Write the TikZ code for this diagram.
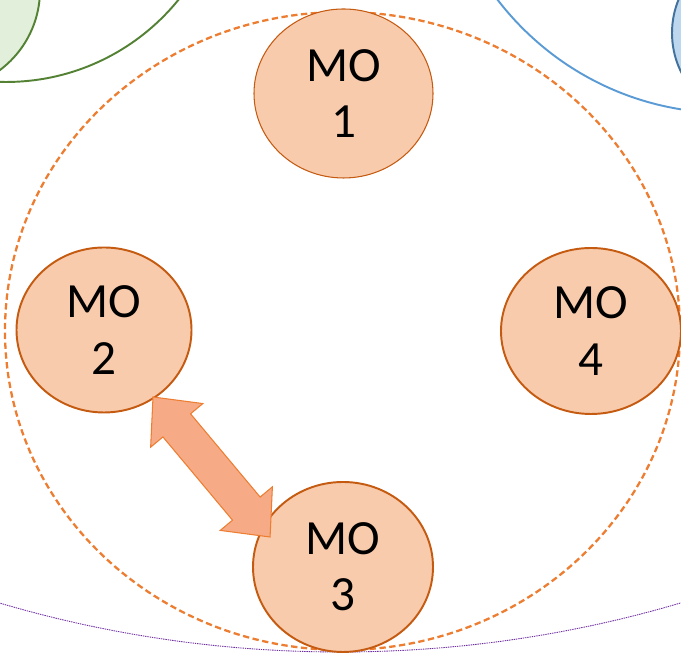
\documentclass[tikz,border=0pt]{standalone}
\usepackage{fontspec}
\setmainfont{Carlito}
\usetikzlibrary{shapes.geometric}

\definecolor{moFill}{HTML}{F8CBAD}
\definecolor{moLine}{HTML}{C55A11}
\definecolor{ringLine}{HTML}{ED7D31}
\definecolor{arrFill}{HTML}{F6AB86}
\definecolor{grnFill}{HTML}{E2EFDA}
\definecolor{grnLine}{HTML}{548235}
\definecolor{bluLine}{HTML}{5B9BD5}
\definecolor{bluFill}{HTML}{BDD7EE}
\definecolor{bluDark}{HTML}{41719C}
\definecolor{purLine}{HTML}{7030A0}

\tikzset{
	mo/.style={ellipse, draw=moLine, fill=moFill, line width=1.1pt, align=center, inner sep=0pt,
		font=\fontsize{28}{32}\selectfont},
	ring/.style={draw=ringLine, dash pattern=on 3.6pt off 2pt, line width=1.3pt},
}

\begin{document}
\begin{tikzpicture}
		\useasboundingbox (0, 0) rectangle (13.62, 13.06);
		\clip (0, 0) rectangle (13.62, 13.06);
		\draw[purLine, dash pattern=on 0.8pt off 0.5pt, line width=0.5pt] (6.8, 24.02) circle (24);
		\filldraw[fill=grnFill, draw=grnLine, line width=1.1pt] (-1.2, 13.26) circle (2.0);
		\draw[grnLine, line width=1.1pt] (0.12, 15.86) circle (4.44);
		\draw[bluLine, line width=1.1pt] (14.54, 16.58) circle (5.78);
		\filldraw[fill=bluFill, draw=bluDark, line width=1.1pt] (15.2, 12.4) circle (1.76);
		\node[ellipse, ring, minimum width=13.5cm, minimum height=12.76cm] (ring) at (6.85, 6.44) {};
		\node[mo, line width=0.6pt, minimum width=3.58cm, minimum height=3.38cm] (mo1) at (6.87, 11.19) {MO\\1};
		\foreach \n/\x/\y/\w/\h in {2/2.08/6.46/3.5/3.3, 3/6.86/1.72/3.6/3.4, 4/11.82/6.44/3.6/3.32}
			\node[mo, minimum width=\w cm, minimum height=\h cm] (mo\n) at (\x, \y) {MO\\\n};
		\coordinate (tipa) at (3.06, 5.12);
		\coordinate (tipb) at (5.40, 2.32);
		\begin{scope}[shift={(tipa)}, rotate=-50.1]
			\filldraw[fill=arrFill, draw=ringLine, line width=0.6pt, line join=miter]
				(0, 0) -- (0.74, 0.68) -- (0.74, 0.36) -- (2.91, 0.36) -- (2.91, 0.68) -- (3.65, 0)
				-- (2.91, -0.68) -- (2.91, -0.36) -- (0.74, -0.36) -- (0.74, -0.68) -- cycle;
		\end{scope}
	\end{tikzpicture}
\end{document}
